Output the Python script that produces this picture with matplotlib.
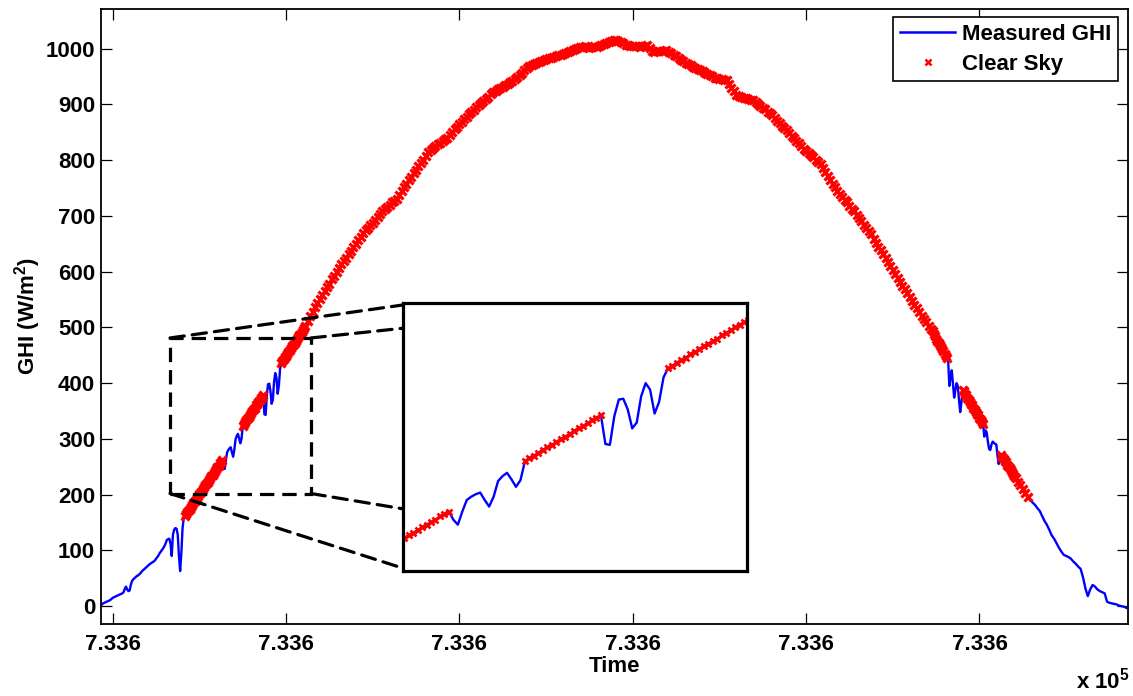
import numpy as np
import matplotlib
matplotlib.use('Agg')
import matplotlib.pyplot as plt
from matplotlib.lines import Line2D
from matplotlib.patches import Rectangle, ConnectionPatch

plt.rcParams['font.family'] = ['Liberation Sans', 'DejaVu Sans']
plt.rcParams['font.weight'] = 'bold'
plt.rcParams['mathtext.fontset'] = 'custom'
plt.rcParams['mathtext.rm'] = 'Liberation Sans:bold'
plt.rcParams['mathtext.bf'] = 'Liberation Sans:bold'
plt.rcParams['mathtext.it'] = 'Liberation Sans:bold'

# ---------------- data (minutes after start of record, GHI in W/m^2) ----------------
# 1-minute samples, t = 0..170
ghi_seg1 = [2, 3, 5, 6, 7, 8, 9, 10, 11, 13,
            15, 16, 17, 18, 19, 20, 21, 22, 23, 25,
            31, 35, 30, 27, 28, 38, 45, 48, 50, 52,
            54, 55, 57, 59, 62, 64, 66, 68, 70, 72,
            74, 76, 77, 79, 80, 82, 85, 88, 91, 95,
            98, 101, 104, 108, 113, 119, 120, 121, 112, 90,
            128, 137, 140, 139, 128, 90, 63, 95, 140, 158,
            162, 165, 169, 172, 175, 178, 182, 185, 188, 191,
            194, 198, 201, 204, 207, 210, 214, 217, 220, 223,
            226, 230, 233, 236, 239, 243, 246, 249, 252, 256,
            259, 262, 252, 246, 262, 276, 280, 283, 285, 276,
            268, 280, 299, 305, 309, 301, 292, 300, 323, 327,
            330, 333, 337, 340, 343, 346, 350, 353, 356, 360,
            363, 366, 369, 373, 376, 379, 344, 343, 378, 398,
            399, 386, 363, 370, 402, 418, 410, 381, 395, 425,
            436, 439, 443, 446, 449, 453, 456, 459, 463, 466,
            469, 472, 476, 479, 482, 486, 489, 492, 495, 499,
            503]
# 2-minute samples, t = 172..690
ghi_seg2 = [511, 520, 528, 536, 543, 550, 558, 565, 572, 578,
            586, 592, 600, 606, 613, 619, 625, 632, 637, 644,
            650, 656, 662, 669, 674, 679, 684, 688, 693, 698,
            703, 708, 712, 716, 720, 724, 727, 731, 738, 744,
            751, 757, 764, 770, 777, 783, 789, 795, 801, 807,
            814, 819, 822, 825, 828, 831, 834, 837, 840, 845,
            850, 855, 860, 864, 869, 874, 878, 882, 886, 890,
            895, 899, 903, 906, 910, 914, 918, 922, 924, 927,
            929, 932, 935, 937, 940, 942, 945, 949, 953, 957,
            961, 965, 969, 971, 973, 975, 976, 978, 980, 982,
            983, 984, 985, 986, 988, 989, 991, 992, 994, 996,
            998, 999, 1001, 1003, 1002, 1004, 1003, 1001, 1003, 1004,
            1003, 1005, 1006, 1008, 1010, 1011, 1013, 1015, 1016, 1014,
            1012, 1010, 1007, 1006, 1005, 1005, 1004, 1004, 1003, 1004,
            1005, 1006, 1001, 996, 994, 995, 995, 996, 996, 997,
            994, 992, 989, 986, 983, 980, 977, 974, 972, 970,
            967, 965, 963, 961, 959, 957, 954, 952, 950, 948,
            947, 946, 945, 944, 943, 937, 930, 924, 917, 915,
            914, 912, 911, 910, 908, 907, 904, 901, 897, 894,
            891, 887, 884, 880, 875, 871, 867, 862, 858, 854,
            849, 844, 839, 835, 830, 825, 820, 816, 812, 809,
            805, 801, 797, 793, 785, 779, 772, 765, 758, 751,
            745, 739, 734, 729, 724, 718, 713, 708, 702, 696,
            690, 684, 678, 672, 667, 659, 652, 645, 638, 631,
            624, 617, 610, 603, 596, 589, 582, 575, 569, 562,
            555, 548, 541, 534, 527, 521, 515, 509, 503, 497]
# 1-minute samples, t = 691..760
ghi_seg3 = [493, 489, 484, 480, 476, 472, 468, 464, 461, 457,
            453, 449, 445, 440, 395, 410, 423, 398, 374, 388,
            400, 395, 370, 348, 365, 388, 385, 381, 378, 374,
            370, 367, 363, 360, 356, 352, 349, 345, 342, 338,
            334, 331, 327, 304, 315, 312, 295, 282, 280, 290,
            295, 293, 291, 290, 270, 255, 265, 271, 268, 264,
            261, 258, 254, 251, 247, 244, 240, 237, 234, 230]
# 2-minute samples, t = 762..852
ghi_seg4 = [223, 217, 210, 203, 196, 190, 186, 182, 176, 171,
            162, 153, 146, 137, 127, 121, 113, 105, 98, 92,
            90, 88, 85, 80, 76, 71, 67, 52, 32, 18,
            30, 38, 35, 30, 27, 25, 23, 8, 6, 5,
            4, 3, 1, 0, -1, -3]

# clear-sky periods detected (minutes)
clear_windows = [(70, 101), (118, 135), (150, 703), (716, 733), (748, 770)]

x_tick_pos = [10, 154, 298, 442, 586, 730]
x_tick_labels = ['7.336', '7.336', '7.336', '7.336', '7.336', '7.336']
y_ticks = [0, 100, 200, 300, 400, 500, 600, 700, 800, 900, 1000]

zoom_box_t = (57.6, 174.7)
zoom_box_ghi = (202, 481)
inset_t = (90.8, 167.6)
inset_ghi = (189.7, 515)

time_min = np.concatenate([np.arange(0, 171), np.arange(172, 691, 2),
                           np.arange(691, 761), np.arange(762, 853, 2)])
ghi = np.array(ghi_seg1 + ghi_seg2 + ghi_seg3 + ghi_seg4, dtype=float)
clear = np.full_like(ghi, np.nan)
for a, b in clear_windows:
    m = (time_min >= a) & (time_min <= b)
    clear[m] = ghi[m]

BLUE = '#0000FF'
RED = '#FF0000'
FS = 16

fig = plt.figure(figsize=(11.33, 6.96), dpi=100)
W, H = 1133.0, 696.0
ax = fig.add_axes([100.7 / W, 1 - 624 / H, (1128 - 100.7) / W, (624 - 9) / H])

ax.plot(time_min, ghi, color=BLUE, lw=1.7)
ax.plot(time_min, clear, ls='none', marker='x', color=RED, ms=5.5, mew=2.3)

ax.set_xlim(0, 853.4)
ax.set_ylim(-32, 1071)
ax.set_xticks(x_tick_pos)
ax.set_xticklabels(x_tick_labels)
ax.set_yticks(y_ticks)
ax.tick_params(direction='in', length=8, width=0.9, top=True, right=True,
               labelsize=FS)
ax.tick_params(axis='x', pad=7)
ax.tick_params(axis='y', pad=4)
for s in ax.spines.values():
    s.set_linewidth(1.3)
ax.set_xlabel('Time', fontsize=FS, fontweight='bold', labelpad=1)
ax.set_ylabel(r'GHI (W/m$^{\mathbf{2}}$)', fontsize=FS, fontweight='bold', labelpad=2)

handles = [Line2D([], [], color=BLUE, lw=1.8),
           Line2D([], [], ls='none', marker='x', color=RED, ms=4, mew=1.8)]
leg = ax.legend(handles, ['Measured GHI', 'Clear Sky'], loc='upper right',
                bbox_to_anchor=(0.9903, 0.987), borderaxespad=0, fancybox=False,
                edgecolor='black', framealpha=1, fontsize=FS, handlelength=2.5,
                handletextpad=0.3, labelspacing=0.4, borderpad=0.3)
leg.get_frame().set_linewidth(1.2)

dash = (0, (4.5, 2.5))
rect = Rectangle((zoom_box_t[0], zoom_box_ghi[0]), zoom_box_t[1] - zoom_box_t[0],
                 zoom_box_ghi[1] - zoom_box_ghi[0], fill=False, ec='black',
                 lw=2.3, ls=dash, zorder=5)
ax.add_patch(rect)

axin = fig.add_axes([403.3 / W, 1 - 571 / H, 343.4 / W, 267.7 / H])
axin.plot(time_min, ghi, color=BLUE, lw=1.7)
axin.plot(time_min, clear, ls='none', marker='x', color=RED, ms=5, mew=1.9)
axin.set_xlim(*inset_t)
axin.set_ylim(*inset_ghi)
axin.set_xticks([])
axin.set_yticks([])
for s in axin.spines.values():
    s.set_linewidth(2.3)

conn = [((zoom_box_t[0], zoom_box_ghi[1]), 0.994),
        ((zoom_box_t[1], zoom_box_ghi[1]), 0.907),
        ((zoom_box_t[1], zoom_box_ghi[0]), 0.232),
        ((zoom_box_t[0], zoom_box_ghi[0]), 0.010)]
for xyA, fy in conn:
    cp = ConnectionPatch(xyA=xyA, coordsA=ax.transData, xyB=(0, fy),
                         coordsB=axin.transAxes, color='black', lw=2.3,
                         ls=dash)
    fig.add_artist(cp)

fig.text(1076 / W, 1 - 689 / H, r'x 10$^{\mathbf{5}}$', fontsize=FS,
         fontweight='bold', ha='left', va='baseline')

fig.savefig('out.png', dpi=100)
